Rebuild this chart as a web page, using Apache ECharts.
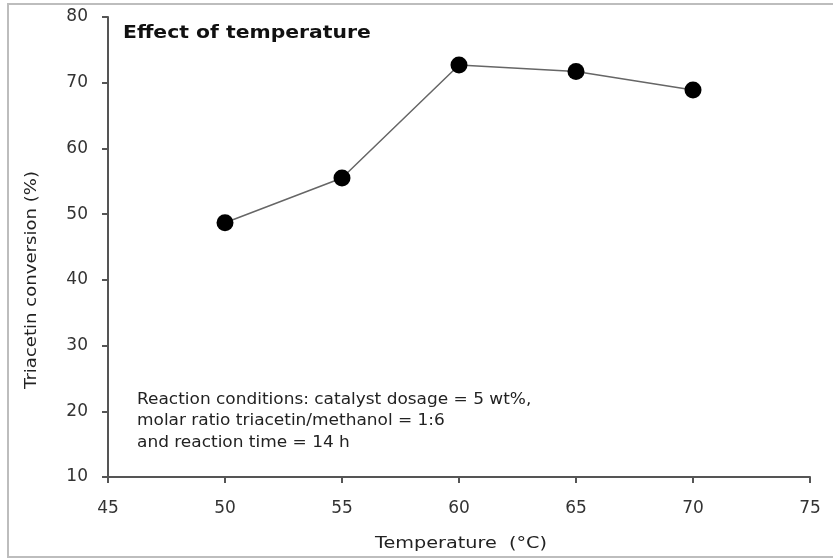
<!DOCTYPE html>
<html><head><meta charset="utf-8">
<script src="https://cdn.jsdelivr.net/npm/echarts@6/dist/echarts.min.js"></script>
<style>html,body{margin:0;padding:0;background:#fff}#c{width:833px;height:560px}</style>
</head><body><div id="c"></div>
<script>
const temperatures = [50, 55, 60, 65, 70];
const conversion = [48.7, 55.5, 72.7, 71.7, 68.9];
const xTicks = [45, 50, 55, 60, 65, 70, 75];
const yTicks = [10, 20, 30, 40, 50, 60, 70, 80];
const titleText = 'Effect of temperature';
const xName = 'Temperature  (°C)';
const yName = 'Triacetin conversion (%)';
const noteLines = ['Reaction conditions: catalyst dosage = 5 wt%,', 'molar ratio triacetin/methanol = 1:6', 'and reaction time = 14 h'];

const chart = echarts.init(document.getElementById('c'));
const font = '"DejaVu Sans", Verdana, sans-serif';
chart.setOption({
  animation: false,
  backgroundColor: '#fff',
  grid: {left: 108, right: 23, top: 17, bottom: 83, containLabel: false},
  graphic: [
    {type: 'rect', shape: {x: 8, y: 4, width: 840, height: 553}, style: {fill: 'none', stroke: '#bdbdbd', lineWidth: 2}, z: -1},
    {type: 'text', x: 123, y: 33, scaleX: 1.13, style: {text: titleText, font: 'bold 18px ' + font, fill: '#111', verticalAlign: 'middle'}},
    {type: 'text', x: 137, y: 389, scaleX: 1.13, style: {text: noteLines.join('\n'), font: '15px ' + font, fill: '#222', lineHeight: 21.5, verticalAlign: 'top'}},
    {type: 'text', x: 461, y: 544, scaleX: 1.2, style: {text: xName, font: '16px ' + font, fill: '#222', align: 'center', verticalAlign: 'middle'}},
    {type: 'text', x: 32, y: 280, rotation: Math.PI / 2, scaleX: 1.13, style: {text: yName, font: '16px ' + font, fill: '#222', align: 'center', verticalAlign: 'middle'}}
  ],
  xAxis: {
    type: 'value', min: 45, max: 75, interval: 5,
    axisLine: {lineStyle: {color: '#555', width: 2}},
    axisTick: {show: true, inside: false, length: 6, lineStyle: {color: '#555', width: 2}},
    axisLabel: {fontFamily: font, fontSize: 17, color: '#333', margin: 23},
    splitLine: {show: false}
  },
  yAxis: {
    type: 'value', min: 10, max: 80, interval: 10,
    axisLine: {show: true, lineStyle: {color: '#555', width: 2}},
    axisTick: {show: true, inside: false, length: 6, lineStyle: {color: '#555', width: 2}},
    axisLabel: {fontFamily: font, fontSize: 17, color: '#333', margin: 20},
    splitLine: {show: false}
  },
  series: [{
    type: 'line',
    data: temperatures.map((t, i) => [t, conversion[i]]),
    symbol: 'circle', symbolSize: 17,
    itemStyle: {color: '#000'},
    lineStyle: {color: '#666', width: 1.5}
  }]
});
</script></body></html>
